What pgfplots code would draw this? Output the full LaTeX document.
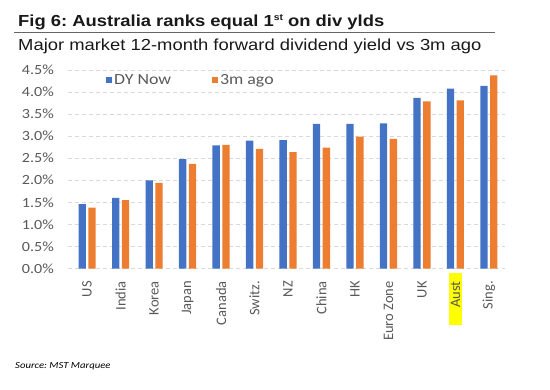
\documentclass[border=0pt]{standalone}
\usepackage{pgfplots}
\pgfplotsset{compat=1.18}
\usepackage{fontspec}
\setmainfont{Carlito}
\newfontfamily\carlito{Carlito}
\newfontfamily\carlitoS[FakeStretch=1.15]{Carlito}
\newfontfamily\arialS[FakeStretch=1.15]{Liberation Sans}
\definecolor{dyblue}{HTML}{4472C4}
\definecolor{dyorange}{HTML}{ED7D31}
\definecolor{txtgray}{HTML}{595959}
\definecolor{gridgray}{HTML}{D9D9D9}
\definecolor{hiyellow}{HTML}{FFFF00}
\pgfplotstableread{
x now ago
0 1.46 1.38
1 1.60 1.55
2 2.00 1.94
3 2.48 2.37
4 2.79 2.80
5 2.90 2.71
6 2.91 2.64
7 3.28 2.74
8 3.28 2.99
9 3.29 2.94
10 3.87 3.79
11 4.08 3.81
12 4.14 4.38
}\datatable
\frenchspacing
\begin{document}
\begin{tikzpicture}
\path[use as bounding box] (0,0) rectangle (550bp,-390bp);
\node[anchor=base west, inner sep=0pt, text=black!90] at (18bp,-26bp)
  {\arialS\bfseries\fontsize{16bp}{18bp}\selectfont Fig 6: Australia ranks equal 1\raisebox{5.5bp}{\fontsize{9bp}{9bp}\selectfont st} on div ylds};
\draw[black!60, line width=0.8bp] (14bp,-32.3bp) -- (495bp,-32.3bp);
\node[anchor=base west, inner sep=0pt, text=black!90] at (18bp,-50bp)
  {\arialS\fontsize{16bp}{18bp}\selectfont Major market 12-month forward dividend yield vs 3m ago};
\node[anchor=base west, inner sep=0pt, text=black] at (15bp,-368bp)
  {\carlitoS\itshape\fontsize{9.3bp}{11bp}\selectfont Source: MST Marquee};
\begin{axis}[
  at={(68bp,-268.5bp)}, anchor=south west,
  scale only axis, width=437bp, height=198.5bp,
  ybar=2.5bp, bar width=7.3bp,
  xmin=-0.57, xmax=12.48, ymin=0, ymax=4.5,
  xtick=data,
  xticklabels={US,India,Korea,Japan,Canada,Switz.,NZ,China,HK,Euro Zone,UK,{\fboxsep=1.5bp\colorbox{hiyellow}{\hspace{16bp}Aust\hspace{7bp}}\kern-8.5bp},Sing.},
  xticklabel style={rotate=90, anchor=east, inner sep=0pt, font=\carlito\fontsize{14.5bp}{16bp}\selectfont, text=txtgray},
  xticklabel shift=12.5bp,
  ytick={0,0.5,1,1.5,2,2.5,3,3.5,4,4.5},
  yticklabel={\pgfmathprintnumber[fixed,fixed zerofill,precision=1]{\tick}\%},
  /pgf/number format/assume math mode=true,
  yticklabel style={font=\carlitoS\fontsize{14bp}{16bp}\selectfont, text=txtgray, inner sep=0pt},
  yticklabel shift=14bp,
  ymajorgrids,
  major grid style={draw=gridgray, line width=0.9bp, dash pattern=on 4bp off 3bp},
  axis line style={draw=none},
  major tick length=0pt,
  legend columns=2,
  legend style={at={(rel axis cs:0.087,0.95)}, anchor=west, draw=none, fill=none, inner sep=0pt,
    font=\carlitoS\fontsize{15.5bp}{17bp}\selectfont, text=txtgray,
    /tikz/every even column/.append style={column sep=39bp}},
  legend image code/.code={\fill[#1] (0bp,-3bp) rectangle (6bp,3bp);},
  legend cell align=left,
]
\addplot[fill=dyblue, draw=none] table[x=x, y=now] {\datatable};
\addplot[fill=dyorange, draw=none] table[x=x, y=ago] {\datatable};
\legend{DY Now,3m ago}
\end{axis}
\end{tikzpicture}
\end{document}
